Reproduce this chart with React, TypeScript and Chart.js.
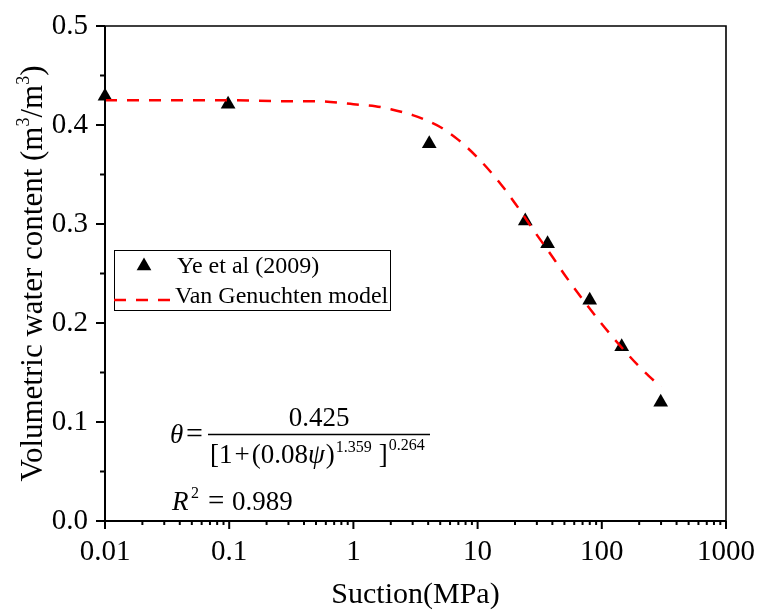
import React, { useEffect, useRef } from "react";
import { Chart, registerables } from "chart.js";

Chart.register(...registerables);

// ---- data ----
const suction = [0.01, 0.098, 4.08, 24.2, 36.6, 79.9, 144.6, 298];
const waterContent = [0.429, 0.421, 0.381, 0.303, 0.28, 0.223, 0.176, 0.12];

const modelSuction = [0.01, 0.03, 0.1, 0.3, 0.5, 1, 1.5, 2, 3, 4, 5, 7, 10, 15, 20, 30, 40, 50, 70, 100, 150, 200, 300];
const modelTheta = [0.425, 0.425, 0.425, 0.424, 0.424, 0.421, 0.419, 0.416, 0.41, 0.404, 0.398, 0.385, 0.367, 0.342, 0.321, 0.289, 0.267, 0.249, 0.224, 0.199, 0.173, 0.156, 0.135];

const xMajorValues = [0.01, 0.1, 1, 10, 100, 1000];
const xTickLabels = ["0.01", "0.1", "1", "10", "100", "1000"];
const yTickValues = [0, 0.1, 0.2, 0.3, 0.4, 0.5];
const yTickLabels = ["0.0", "0.1", "0.2", "0.3", "0.4", "0.5"];
const yMinorValues = [0.05, 0.15, 0.25, 0.35, 0.45];

const seriesLabels = ["Ye et al (2009)", "Van Genuchten model"];
const xTitle = "Suction(MPa)";

const SERIF = "'Liberation Serif', 'Times New Roman', serif";

function drawRun(ctx: CanvasRenderingContext2D, parts: any[], x: number, y: number) {
  let cx = x;
  for (const p of parts) {
    ctx.font = p.font;
    ctx.fillText(p.text, cx, y + (p.dy || 0));
    cx += ctx.measureText(p.text).width + (p.gap || 0);
  }
  return cx;
}

function runWidth(ctx: CanvasRenderingContext2D, parts: any[]) {
  let w = 0;
  for (const p of parts) {
    ctx.font = p.font;
    w += ctx.measureText(p.text).width + (p.gap || 0);
  }
  return w;
}

const overlay = {
  id: "overlay",
  afterDraw(chart: any) {
    const { ctx, chartArea } = chart;
    const { left, top, right, bottom } = chartArea;
    const xs = chart.scales.x;
    const ys = chart.scales.y;
    ctx.save();
    ctx.strokeStyle = "#000";
    ctx.fillStyle = "#000";

    // frame
    ctx.lineWidth = 1.6;
    ctx.beginPath();
    ctx.moveTo(left, top);
    ctx.lineTo(right, top);
    ctx.lineTo(right, bottom);
    ctx.stroke();
    ctx.lineWidth = 2;
    ctx.beginPath();
    ctx.moveTo(left, top);
    ctx.lineTo(left, bottom);
    ctx.lineTo(right, bottom);
    ctx.stroke();

    // x ticks
    ctx.lineWidth = 2;
    for (let d = -2; d <= 3; d++) {
      const base = Math.pow(10, d);
      const px = xs.getPixelForValue(base);
      ctx.beginPath();
      ctx.moveTo(px, bottom);
      ctx.lineTo(px, bottom + 8);
      ctx.stroke();
      if (d < 3) {
        for (let k = 2; k <= 9; k++) {
          const mx = xs.getPixelForValue(k * base);
          ctx.beginPath();
          ctx.moveTo(mx, bottom);
          ctx.lineTo(mx, bottom + 4);
          ctx.stroke();
        }
      }
    }
    // y ticks
    for (const v of yTickValues) {
      const py = ys.getPixelForValue(v);
      ctx.beginPath();
      ctx.moveTo(left - 9, py);
      ctx.lineTo(left, py);
      ctx.stroke();
    }
    for (const v of yMinorValues) {
      const py = ys.getPixelForValue(v);
      ctx.beginPath();
      ctx.moveTo(left - 5, py);
      ctx.lineTo(left, py);
      ctx.stroke();
    }

    // axis titles
    ctx.textBaseline = "alphabetic";
    ctx.textAlign = "left";
    ctx.font = `30px ${SERIF}`;
    const xtW = ctx.measureText(xTitle).width;
    ctx.fillText(xTitle, (left + right) / 2 - xtW / 2, 603);

    const yParts = [
      { text: "Volumetric water content (m", font: `31px ${SERIF}` },
      { text: "3", font: `18px ${SERIF}`, dy: -13 },
      { text: "/m", font: `31px ${SERIF}` },
      { text: "3", font: `18px ${SERIF}`, dy: -13 },
      { text: ")", font: `31px ${SERIF}` },
    ];
    ctx.save();
    ctx.translate(42, (top + bottom) / 2);
    ctx.rotate(-Math.PI / 2);
    const yw = runWidth(ctx, yParts);
    drawRun(ctx, yParts, -yw / 2, 0);
    ctx.restore();

    // legend box
    ctx.lineWidth = 1;
    ctx.strokeStyle = "#000";
    ctx.strokeRect(114.5, 250.5, 276, 60);
    // triangle
    const tx = 144, ty = 266, r = 8.5;
    ctx.beginPath();
    ctx.moveTo(tx, ty - r);
    ctx.lineTo(tx + r * Math.sin((2 * Math.PI) / 3), ty - r * Math.cos((2 * Math.PI) / 3));
    ctx.lineTo(tx + r * Math.sin((4 * Math.PI) / 3), ty - r * Math.cos((4 * Math.PI) / 3));
    ctx.closePath();
    ctx.fill();
    ctx.font = `24px ${SERIF}`;
    ctx.textBaseline = "middle";
    ctx.fillText(seriesLabels[0], 177, 267);
    ctx.save();
    ctx.strokeStyle = "#ff0000";
    ctx.lineWidth = 2.5;
    ctx.setLineDash([12, 10]);
    ctx.beginPath();
    ctx.moveTo(114, 300);
    ctx.lineTo(172, 300);
    ctx.stroke();
    ctx.restore();
    ctx.fillText(seriesLabels[1], 175, 297);

    // equation
    ctx.textBaseline = "alphabetic";
    const big = `27px ${SERIF}`;
    const bigI = `italic 27px ${SERIF}`;
    const sm = `16px ${SERIF}`;
    ctx.font = bigI;
    ctx.fillText("\u03b8", 170, 443);
    ctx.font = `30px ${SERIF}`;
    ctx.fillText("=", 186, 443);
    ctx.lineWidth = 1.5;
    ctx.beginPath();
    ctx.moveTo(208, 434.5);
    ctx.lineTo(430, 434.5);
    ctx.stroke();
    ctx.font = big;
    const nw = ctx.measureText("0.425").width;
    ctx.fillText("0.425", 319 - nw / 2, 426);
    drawRun(ctx, [
      { text: "[1", font: big, gap: 2 },
      { text: "+", font: big, gap: 2 },
      { text: "(0.08", font: big },
      { text: "\u03c8", font: bigI, gap: 1 },
      { text: ")", font: big, gap: 1 },
      { text: "1.359", font: sm, dy: -11, gap: 7 },
      { text: "]", font: big, gap: 1 },
      { text: "0.264", font: sm, dy: -13 },
    ], 210, 463);
    ctx.font = bigI;
    ctx.fillText("R", 172, 510);
    ctx.font = sm;
    ctx.fillText("2", 191, 498);
    ctx.font = `29px ${SERIF}`;
    ctx.fillText("=", 208, 510);
    ctx.font = big;
    ctx.fillText("0.989", 232, 510);

    ctx.restore();
  },
};

const zeroPad = (s: any) => {
  s.paddingLeft = 0;
  s.paddingRight = 0;
  s.paddingTop = 0;
  s.paddingBottom = 0;
};

export default function App() {
  const ref = useRef<HTMLCanvasElement | null>(null);
  useEffect(() => {
    if (!ref.current) return;
    const chart = new Chart(ref.current, {
      type: "scatter",
      data: {
        datasets: [
          {
            type: "line",
            label: seriesLabels[1],
            data: modelSuction.map((s, i) => ({ x: s, y: modelTheta[i] })),
            borderColor: "#ff0000",
            borderWidth: 2.5,
            borderDash: [12, 10],
            pointRadius: 0,
            fill: false,
            cubicInterpolationMode: "monotone",
            order: 0,
          } as any,
          {
            type: "scatter",
            label: seriesLabels[0],
            data: suction.map((s, i) => ({ x: s, y: waterContent[i] })),
            pointStyle: "triangle",
            pointRadius: 8.5,
            backgroundColor: "#000",
            borderColor: "#000",
            borderWidth: 0,
            clip: false,
            order: 1,
          } as any,
        ],
      },
      options: {
        responsive: false,
        animation: false,
        devicePixelRatio: 1,
        layout: { padding: { top: 26, right: 34, left: 0, bottom: 0 } },
        plugins: { legend: { display: false }, tooltip: { enabled: false } },
        scales: {
          x: {
            type: "logarithmic",
            min: 0.01,
            max: 1000,
            grid: { display: false, drawTicks: false },
            border: { display: false },
            afterBuildTicks: (s: any) => {
              s.ticks = xMajorValues.map((v) => ({ value: v }));
            },
            afterFit: (s: any) => {
              s.height = 89;
              zeroPad(s);
            },
            ticks: {
              autoSkip: false,
              maxRotation: 0,
              minRotation: 0,
              padding: 14,
              color: "#000",
              font: { family: SERIF, size: 29 },
              callback: (v: any) => {
                const i = xMajorValues.findIndex((m) => Math.abs(m - v) / m < 1e-6);
                return i >= 0 ? xTickLabels[i] : "";
              },
            },
          },
          y: {
            type: "linear",
            min: 0,
            max: 0.5,
            grid: { display: false, drawTicks: false },
            border: { display: false },
            afterBuildTicks: (s: any) => {
              s.ticks = yTickValues.map((v) => ({ value: v }));
            },
            afterFit: (s: any) => {
              s.width = 105;
              zeroPad(s);
            },
            ticks: {
              padding: 17,
              color: "#000",
              font: { family: SERIF, size: 29 },
              callback: (v: any) => {
                const i = yTickValues.findIndex((m) => Math.abs(m - v) < 1e-6);
                return i >= 0 ? yTickLabels[i] : "";
              },
            },
          },
        },
      },
      plugins: [overlay],
    });
    return () => chart.destroy();
  }, []);
  return (
    <div style={{ position: "absolute", left: 0, top: 0, width: 760, height: 610, background: "#fff" }}>
      <canvas ref={ref} width={760} height={610} style={{ width: 760, height: 610, display: "block" }} />
    </div>
  );
}
